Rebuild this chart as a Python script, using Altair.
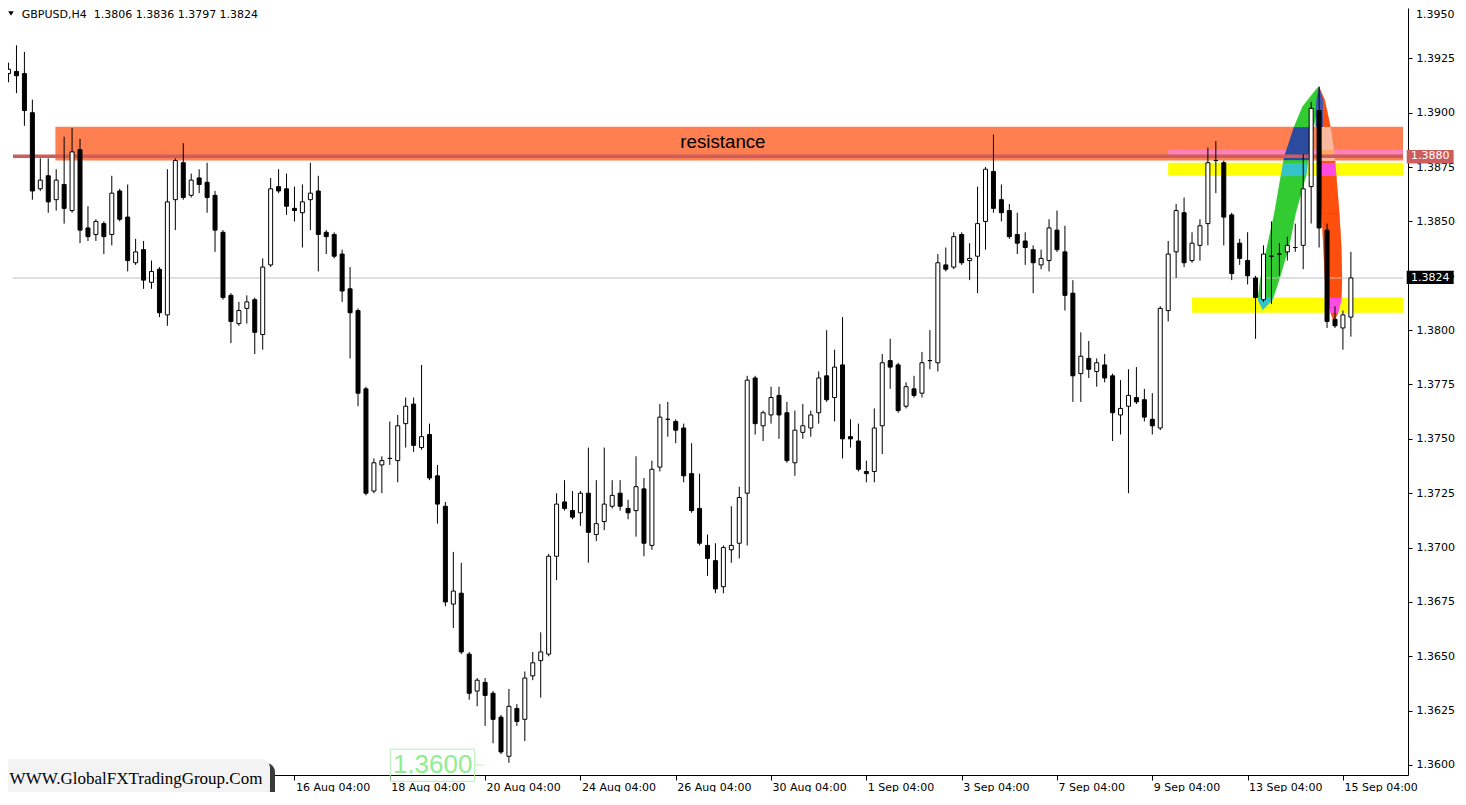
import json
import numpy as np
import pandas as pd
import altair as alt

# ---------------- data (GBPUSD H4 candles) ----------------
OPEN = [1.3918, 1.3919, 1.3918, 1.3900, 1.3865, 1.3871, 1.3860, 1.3867, 1.3855, 1.3883,
        1.3847, 1.3844, 1.3849, 1.3844, 1.3864, 1.3852, 1.3831, 1.3837, 1.3822, 1.3828,
        1.3807, 1.3860, 1.3877, 1.3862, 1.3870, 1.3868, 1.3862, 1.3845, 1.3816, 1.3803,
        1.3810, 1.3814, 1.3798, 1.3830, 1.3866, 1.3865, 1.3856, 1.3854, 1.3860, 1.3864,
        1.3845, 1.3844, 1.3835, 1.3819, 1.3809, 1.3773, 1.3726, 1.3738, 1.3741, 1.3740,
        1.3757, 1.3766, 1.3746, 1.3752, 1.3733, 1.3719, 1.3674, 1.3679, 1.3651, 1.3634,
        1.3638, 1.3633, 1.3622, 1.3604, 1.3626, 1.3621, 1.3641, 1.3648, 1.3651, 1.3696,
        1.3721, 1.3717, 1.3716, 1.3725, 1.3706, 1.3712, 1.3719, 1.3725, 1.3718, 1.3717,
        1.3727, 1.3701, 1.3737, 1.3759, 1.3758, 1.3755, 1.3734, 1.3718, 1.3701, 1.3694,
        1.3682, 1.3699, 1.3702, 1.3725, 1.3778, 1.3756, 1.3761, 1.3770, 1.3762, 1.3739,
        1.3753, 1.3755, 1.3762, 1.3779, 1.3769, 1.3784, 1.3751, 1.3749, 1.3735, 1.3735,
        1.3756, 1.3786, 1.3784, 1.3765, 1.3773, 1.3771, 1.3786, 1.3785, 1.3830, 1.3829,
        1.3844, 1.3832, 1.3834, 1.3850, 1.3873, 1.3860, 1.3855, 1.3844, 1.3841, 1.3837,
        1.3830, 1.3832, 1.3846, 1.3836, 1.3817, 1.3780, 1.3787, 1.3781, 1.3784, 1.3779,
        1.3761, 1.3765, 1.3769, 1.3768, 1.3759, 1.3755, 1.3809, 1.3836, 1.3854, 1.3832,
        1.3839, 1.3849, 1.3878, 1.3877, 1.3853, 1.3840, 1.3832, 1.3824, 1.3814, 1.3834,
        1.3835, 1.3836, 1.3838, 1.3839, 1.3866, 1.3901, 1.3846, 1.3805, 1.3801, 1.3806]
HIGH = [1.3923, 1.3931, 1.3928, 1.3906, 1.3879, 1.3879, 1.3874, 1.3889, 1.3893, 1.3888,
        1.3857, 1.3851, 1.3850, 1.3871, 1.3865, 1.3867, 1.3842, 1.3841, 1.3832, 1.3829,
        1.3874, 1.3879, 1.3886, 1.3872, 1.3874, 1.3877, 1.3864, 1.3846, 1.3817, 1.3813,
        1.3816, 1.3815, 1.3833, 1.3870, 1.3874, 1.3872, 1.3866, 1.3867, 1.3877, 1.3871,
        1.3846, 1.3845, 1.3837, 1.3829, 1.3810, 1.3774, 1.3741, 1.3742, 1.3758, 1.3761,
        1.3769, 1.3769, 1.3784, 1.3757, 1.3738, 1.3721, 1.3698, 1.3693, 1.3652, 1.3640,
        1.3640, 1.3634, 1.3623, 1.3635, 1.3628, 1.3643, 1.3652, 1.3661, 1.3697, 1.3725,
        1.3731, 1.3726, 1.3726, 1.3746, 1.3731, 1.3746, 1.3731, 1.3731, 1.3722, 1.3742,
        1.3732, 1.3740, 1.3766, 1.3767, 1.3759, 1.3757, 1.3748, 1.3734, 1.3706, 1.3702,
        1.3701, 1.3719, 1.3728, 1.3779, 1.3779, 1.3763, 1.3774, 1.3774, 1.3767, 1.3763,
        1.3766, 1.3763, 1.3781, 1.3800, 1.3791, 1.3806, 1.3759, 1.3757, 1.3740, 1.3764,
        1.3789, 1.3796, 1.3785, 1.3776, 1.3779, 1.3790, 1.3800, 1.3835, 1.3838, 1.3845,
        1.3845, 1.3840, 1.3866, 1.3875, 1.3890, 1.3867, 1.3858, 1.3854, 1.3845, 1.3839,
        1.3837, 1.3851, 1.3855, 1.3848, 1.3823, 1.3799, 1.3795, 1.3787, 1.3789, 1.3780,
        1.3777, 1.3782, 1.3783, 1.3773, 1.3771, 1.3811, 1.3841, 1.3858, 1.3861, 1.3845,
        1.3851, 1.3884, 1.3887, 1.3878, 1.3854, 1.3842, 1.3845, 1.3825, 1.3839, 1.3850,
        1.3840, 1.3843, 1.3849, 1.3881, 1.3905, 1.3912, 1.3849, 1.3811, 1.3809, 1.3836]
LOW = [1.3914, 1.3909, 1.3894, 1.3860, 1.3864, 1.3854, 1.3855, 1.3849, 1.3854, 1.3840,
       1.3841, 1.3841, 1.3835, 1.3839, 1.3850, 1.3827, 1.3830, 1.3819, 1.3819, 1.3806,
       1.3802, 1.3846, 1.3860, 1.3861, 1.3863, 1.3854, 1.3836, 1.3814, 1.3794, 1.3802,
       1.3803, 1.3789, 1.3791, 1.3829, 1.3863, 1.3853, 1.3850, 1.3838, 1.3846, 1.3827,
       1.3835, 1.3833, 1.3813, 1.3787, 1.3765, 1.3724, 1.3725, 1.3725, 1.3738, 1.3730,
       1.3746, 1.3744, 1.3745, 1.3731, 1.3711, 1.3673, 1.3663, 1.3651, 1.3630, 1.3627,
       1.3618, 1.3610, 1.3605, 1.3601, 1.3618, 1.3611, 1.3639, 1.3631, 1.3650, 1.3685,
       1.3717, 1.3713, 1.3710, 1.3693, 1.3703, 1.3708, 1.3718, 1.3717, 1.3713, 1.3705,
       1.3696, 1.3699, 1.3735, 1.3751, 1.3748, 1.3730, 1.3716, 1.3701, 1.3687, 1.3679,
       1.3679, 1.3693, 1.3695, 1.3701, 1.3752, 1.3749, 1.3757, 1.3750, 1.3739, 1.3733,
       1.3750, 1.3751, 1.3757, 1.3767, 1.3758, 1.3741, 1.3746, 1.3735, 1.3730, 1.3730,
       1.3743, 1.3773, 1.3762, 1.3764, 1.3769, 1.3769, 1.3782, 1.3781, 1.3827, 1.3828,
       1.3830, 1.3823, 1.3817, 1.3837, 1.3854, 1.3850, 1.3842, 1.3835, 1.3830, 1.3817,
       1.3828, 1.3827, 1.3836, 1.3809, 1.3767, 1.3767, 1.3778, 1.3774, 1.3776, 1.3749,
       1.3752, 1.3725, 1.3766, 1.3758, 1.3752, 1.3754, 1.3804, 1.3824, 1.3829, 1.3831,
       1.3832, 1.3839, 1.3863, 1.3839, 1.3823, 1.3830, 1.3821, 1.3796, 1.3813, 1.3812,
       1.3825, 1.3832, 1.3836, 1.3828, 1.3849, 1.3838, 1.3801, 1.3801, 1.3791, 1.3797]
CLOSE = [1.3920, 1.3917, 1.3901, 1.3864, 1.3869, 1.3859, 1.3869, 1.3856, 1.3882, 1.3846,
         1.3843, 1.3850, 1.3843, 1.3863, 1.3851, 1.3832, 1.3836, 1.3823, 1.3827, 1.3808,
         1.3859, 1.3878, 1.3861, 1.3869, 1.3867, 1.3861, 1.3846, 1.3815, 1.3804, 1.3809,
         1.3813, 1.3799, 1.3829, 1.3865, 1.3864, 1.3857, 1.3855, 1.3859, 1.3863, 1.3844,
         1.3843, 1.3834, 1.3818, 1.3808, 1.3771, 1.3725, 1.3739, 1.3740, 1.3741, 1.3756,
         1.3765, 1.3747, 1.3751, 1.3732, 1.3720, 1.3675, 1.3680, 1.3652, 1.3633, 1.3639,
         1.3632, 1.3621, 1.3606, 1.3627, 1.3620, 1.3640, 1.3647, 1.3652, 1.3696, 1.3720,
         1.3718, 1.3714, 1.3725, 1.3707, 1.3711, 1.3720, 1.3724, 1.3719, 1.3716, 1.3728,
         1.3702, 1.3736, 1.3760, 1.3759, 1.3754, 1.3733, 1.3717, 1.3702, 1.3695, 1.3681,
         1.3700, 1.3701, 1.3723, 1.3777, 1.3757, 1.3762, 1.3769, 1.3761, 1.3740, 1.3754,
         1.3756, 1.3761, 1.3778, 1.3768, 1.3783, 1.3750, 1.3750, 1.3736, 1.3734, 1.3755,
         1.3785, 1.3783, 1.3763, 1.3774, 1.3770, 1.3785, 1.3786, 1.3831, 1.3828, 1.3843,
         1.3831, 1.3833, 1.3849, 1.3874, 1.3856, 1.3854, 1.3843, 1.3840, 1.3838, 1.3831,
         1.3833, 1.3847, 1.3837, 1.3816, 1.3779, 1.3788, 1.3782, 1.3785, 1.3778, 1.3762,
         1.3764, 1.3770, 1.3767, 1.3760, 1.3756, 1.3810, 1.3835, 1.3855, 1.3831, 1.3840,
         1.3848, 1.3877, 1.3878, 1.3852, 1.3826, 1.3833, 1.3825, 1.3815, 1.3835, 1.3834,
         1.3835, 1.3839, 1.3838, 1.3865, 1.3902, 1.3847, 1.3804, 1.3802, 1.3807, 1.3824]

TICK_BARS = [24, 36, 48, 60, 72, 84, 96, 108, 120, 132, 144, 156, 168]
TICK_LABELS = ["12 Aug 04:00", "16 Aug 04:00", "18 Aug 04:00", "20 Aug 04:00",
               "24 Aug 04:00", "26 Aug 04:00", "30 Aug 04:00", "1 Sep 04:00",
               "3 Sep 04:00", "7 Sep 04:00", "9 Sep 04:00", "13 Sep 04:00", "15 Sep 04:00"]
PRICE_TICKS = [1.3600, 1.3625, 1.3650, 1.3675, 1.3700, 1.3725, 1.3750, 1.3775,
               1.3800, 1.3825, 1.3850, 1.3875, 1.3900, 1.3925]

# zones drawn on the chart (price levels)
RES_LO, RES_HI, RES_START = 1.3878, 1.38935, 5.9
PINK_LO, PINK_HI = 1.3880, 1.3883
Y1_LO, Y1_HI = 1.3871, 1.3877
Y2_LO, Y2_HI = 1.3808, 1.3815
ZONE_START_1, ZONE_START_2 = 146.0, 149.0
LEVEL_RED = 1.3880
LEVEL_LAST = 1.3824

# "banana" outlines: price, left bar, right bar
GREEN_P = [1.38092, 1.38138, 1.38230, 1.38383, 1.38537, 1.38713, 1.38797, 1.38935, 1.39027, 1.39104, 1.39119]
GREEN_L = [157.9, 157.28, 157.56, 158.44, 159.35, 160.19, 160.6, 161.85, 162.9, 164.56, 164.94]
GREEN_R = [157.9, 159.15, 159.98, 161.22, 162.06, 163.4, 163.69, 164.35, 164.81, 164.98, 164.94]
RED_P = [1.38038, 1.38078, 1.38138, 1.38230, 1.38383, 1.38537, 1.38797, 1.38935, 1.39058, 1.39119]
RED_L = [166.85, 166.44, 166.02, 165.72, 165.52, 165.31, 165.1, 165.06, 164.98, 164.98]
RED_R = [166.85, 167.4, 167.81, 167.9, 167.81, 167.56, 166.98, 166.44, 165.72, 164.98]
OVER_P = [1.38935, 1.38997, 1.39058, 1.39119]
OVER_L = [164.56, 164.56, 164.65, 164.98]
OVER_R = [165.48, 165.48, 165.48, 164.98]

# ---------------- scales / axes ----------------
X_DOM = [0.5625, 175.5625]          # 8 px per bar
Y_DOM = [1.359540, 1.394816]        # 21742.9 px per unit of price
W, H = 1400, 767
XSC = alt.Scale(domain=X_DOM, nice=False, zero=False)
YSC = alt.Scale(domain=Y_DOM, nice=False, zero=False)
FONT = "DejaVu Sans"

XAX = alt.Axis(values=TICK_BARS,
               labelExpr=json.dumps(TICK_LABELS) + "[round((datum.value - 24) / 12)]",
               orient="bottom", grid=False, domainColor="black", tickColor="black",
               tickSize=5, labelAlign="left", labelBaseline="top", labelPadding=1,
               labelOffset=1, labelFont=FONT, labelFontSize=11, labelColor="black",
               labelFlush=False, labelOverlap=False, labelBound=False, title=None)
YAX = alt.Axis(values=PRICE_TICKS, format=".4f", orient="right", grid=False,
               domainColor="black", tickColor="black", tickSize=4, labelPadding=4,
               labelFont=FONT, labelFontSize=11, labelColor="black", labelFlush=False,
               labelOverlap=False, labelBound=False, title=None)


def X(f):
    return alt.X(f, type="quantitative", scale=XSC, axis=XAX, title=None)


def Y(f):
    return alt.Y(f, type="quantitative", scale=YSC, axis=YAX, title=None)


one = pd.DataFrame({"a": [0]})

# ---------------- zones ----------------
zones = pd.DataFrame({
    "x": [RES_START, ZONE_START_1, ZONE_START_1, ZONE_START_2],
    "x2": [X_DOM[1]] * 4,
    "y": [RES_LO, PINK_LO, Y1_LO, Y2_LO],
    "y2": [RES_HI, PINK_HI, Y1_HI, Y2_HI],
    "col": ["#FF7F50", "#FF80B4", "#FFFF00", "#FFFF00"],
})
zone_layer = alt.Chart(zones).mark_rect().encode(
    x=X("x"), x2="x2", y=Y("y"), y2="y2", color=alt.Color("col:N", scale=None))


def zone_at(p):
    if PINK_LO <= p <= PINK_HI:
        return "pink"
    if RES_LO <= p <= RES_HI:
        return "coral"
    if Y1_LO <= p <= Y1_HI or Y2_LO <= p <= Y2_HI:
        return "yellow"
    return "none"


def slices(P, L, R, colors):
    """cut the drawn shape into 1-px high horizontal strips"""
    step = 1.0 / 21742.9
    rows = []
    p = P[0]
    while p < P[-1]:
        mid = p + step / 2
        rows.append({"y": p, "y2": min(p + step * 1.4, P[-1]),
                     "l": float(np.interp(mid, P, L)), "r": float(np.interp(mid, P, R)),
                     "col": colors[zone_at(mid)]})
        p += step
    return rows


GREEN_COL = {"none": "#32CD32", "coral": "#2E4C9E", "pink": "#2E4C9E", "yellow": "#33C3C8"}
RED_COL = {"none": "#FF4500", "coral": "#F8BEA4", "pink": "#FFA860", "yellow": "#FF40F0"}
OVER_COL = {"none": "#3457B8", "coral": "#3457B8", "pink": "#3457B8", "yellow": "#3457B8"}
shape_df = pd.DataFrame(slices(GREEN_P, GREEN_L, GREEN_R, GREEN_COL)
                        + slices(RED_P, RED_L, RED_R, RED_COL)
                        + slices(OVER_P, OVER_L, OVER_R, OVER_COL))
shape_layer = alt.Chart(shape_df).mark_rect().encode(
    y=Y("y"), y2="y2", x=X("l"), x2="r", color=alt.Color("col:N", scale=None))

# ---------------- horizontal levels ----------------
lines = pd.DataFrame({"x": [X_DOM[0]] * 2, "x2": [X_DOM[1]] * 2,
                      "y": [LEVEL_LAST, LEVEL_RED], "col": ["#C0C0C0", "#CD5C5C"],
                      "w": [1.0, 3.5]})
line_layer = alt.Chart(lines).mark_rule().encode(
    x=X("x"), x2="x2", y=Y("y"), color=alt.Color("col:N", scale=None),
    strokeWidth=alt.StrokeWidth("w:Q", scale=None))

# ---------------- candles ----------------
cdf = pd.DataFrame({"b": np.arange(len(OPEN)), "o": OPEN, "h": HIGH, "l": LOW, "c": CLOSE})
wicks = alt.Chart(cdf).mark_rule(color="black", strokeWidth=1).encode(
    x=X("b"), y=Y("l"), y2="h")
bodies = alt.Chart(cdf).mark_bar(size=4, stroke="black", strokeWidth=1).encode(
    x=X("b"), y=Y("o"), y2="c",
    fill=alt.condition("datum.c >= datum.o", alt.value("white"), alt.value("black")))

# ---------------- annotations ----------------
res_text = alt.Chart(pd.DataFrame({"x": [89.94], "y": [1.38865], "t": ["resistance"]})).mark_text(
    font="Liberation Sans", fontSize=18.7, color="black", align="center", baseline="middle"
).encode(x=X("x"), y=Y("y"), text="t:N")

lvl_box = alt.Chart(pd.DataFrame({"x": [48.06], "x2": [58.69], "y": [1.35925], "y2": [1.36073]})).mark_rect(
    fill=None, stroke="#B4EEB4", strokeWidth=1).encode(x=X("x"), x2="x2", y=Y("y"), y2="y2")
lvl_dash = alt.Chart(pd.DataFrame({"x": [58.81], "x2": [59.81], "y": [1.3600]})).mark_rule(
    color="#B4EEB4", strokeWidth=1).encode(x=X("x"), x2="x2", y=Y("y"))
lvl_text = alt.Chart(pd.DataFrame({"x": [53.4], "y": [1.3600], "t": ["1.3600"]})).mark_text(
    font="Liberation Sans", fontSize=26, color="#90EE90", align="center", baseline="middle"
).encode(x=X("x"), y=Y("y"), text="t:N")

tags = pd.DataFrame({"x": [176.03, 176.03], "x2": [181.94, 181.94],
                     "y": [1.38766, 1.38212], "y2": [1.38828, 1.38273],
                     "tx": [176.56, 176.56], "ty": [LEVEL_RED, LEVEL_LAST],
                     "t": ["1.3880", "1.3824"], "col": ["#CD5C5C", "#000000"]})
tag_box = alt.Chart(tags).mark_rect().encode(
    x=X("x"), x2="x2", y=Y("y"), y2="y2", color=alt.Color("col:N", scale=None))
tag_text = alt.Chart(tags).mark_text(font=FONT, fontSize=11, color="white", align="left",
                                     baseline="middle").encode(x=X("tx"), y=Y("ty"), text="t:N")

top_label = alt.Chart(one).mark_text(font=FONT, fontSize=11, color="black", align="left",
                                     baseline="middle").encode(
    x=alt.value(1408), y=alt.value(6.5), text=alt.value("1.3950"))

header_tri = alt.Chart(one).mark_point(shape="triangle-down", filled=True, color="black",
                                       size=30, opacity=1).encode(
    x=alt.value(3), y=alt.value(5.5))
header = alt.Chart(one).mark_text(font=FONT, fontSize=11, color="black", align="left",
                                  baseline="middle").encode(
    x=alt.value(13.7), y=alt.value(6.5),
    text=alt.value("GBPUSD,H4\u00a0\u00a01.3806 1.3836 1.3797 1.3824"))

wm_shadow = alt.Chart(one).mark_rect(color="#3a3a3a", cornerRadius=9).encode(
    x=alt.value(-6), x2=alt.value(267), y=alt.value(755), y2=alt.value(795))
wm_box = alt.Chart(one).mark_rect(color="#F3F3F3", cornerRadius=9).encode(
    x=alt.value(-10), x2=alt.value(262), y=alt.value(751), y2=alt.value(791))
wm_text = alt.Chart(one).mark_text(font="Liberation Serif", fontSize=17, color="black",
                                   align="center", baseline="middle").encode(
    x=alt.value(128), y=alt.value(771), text=alt.value("WWW.GlobalFXTradingGroup.Com"))

chart = alt.layer(
    zone_layer, shape_layer, line_layer, wicks, bodies, res_text,
    lvl_box, lvl_dash, lvl_text, tag_box, tag_text, top_label,
    header_tri, header, wm_shadow, wm_box, wm_text,
).properties(
    width=W, height=H,
    autosize=alt.AutoSizeParams(type="none"),
    padding={"left": 0, "top": 0, "right": 48, "bottom": 17},
    background="white",
).configure_view(strokeWidth=0)

chart.save("out.html", embed_options={"renderer": "svg", "actions": False})
